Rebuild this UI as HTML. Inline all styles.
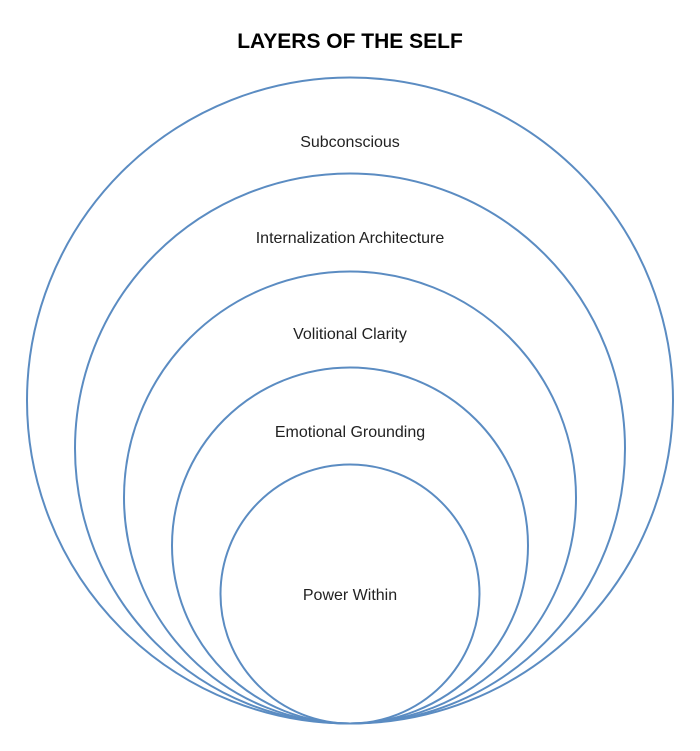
<!DOCTYPE html>
<html><head><meta charset="utf-8"><style>
html,body{margin:0;padding:0;background:#fff;width:700px;height:751px;overflow:hidden}
</style></head><body>
<svg width="700" height="751" viewBox="0 0 700 751" xmlns="http://www.w3.org/2000/svg">
<text x="350" y="48" text-anchor="middle" font-family="Liberation Sans, sans-serif" font-weight="bold" font-size="21" fill="#000">LAYERS OF THE SELF</text>
<g fill="none" stroke="#5b8cc2" stroke-width="2">
<circle cx="350" cy="400.5" r="323"/>
<circle cx="350" cy="448.5" r="275"/>
<circle cx="350" cy="497.5" r="226"/>
<circle cx="350" cy="545.5" r="178"/>
<circle cx="350" cy="594" r="129.5"/>
</g>
<g font-family="Liberation Sans, sans-serif" font-size="16" fill="#222" text-anchor="middle">
<text x="350" y="147">Subconscious</text>
<text x="350" y="243">Internalization Architecture</text>
<text x="350" y="339">Volitional Clarity</text>
<text x="350" y="437">Emotional Grounding</text>
<text x="350" y="600">Power Within</text>
</g>
</svg>
</body></html>
